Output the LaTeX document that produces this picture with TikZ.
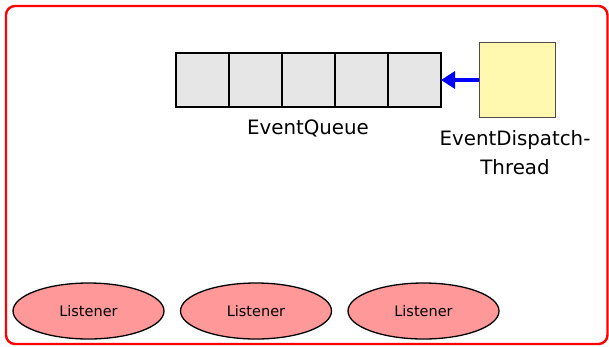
\documentclass[tikz,border=0pt]{standalone}
\usepackage{fontspec}
\setmainfont{DejaVu Sans}
\usetikzlibrary{shapes.geometric,arrows.meta}
\definecolor{cellgray}{HTML}{E6E6E6}
\definecolor{threadyellow}{HTML}{FFF8AE}
\definecolor{listenerred}{HTML}{FF9999}
\tikzset{
  frame/.style={draw=red, line width=2.4pt, rounded corners=9pt},
  cell/.style={draw=black, line width=1.6pt, fill=cellgray, minimum width=53pt, minimum height=53.5pt, inner sep=0pt, outer sep=0pt},
  thread/.style={draw=black!70, line width=0.8pt, fill=threadyellow, minimum width=76.5pt, minimum height=75.5pt, inner sep=0pt},
  listener/.style={ellipse, draw=black, line width=1.3pt, fill=listenerred, minimum width=151pt, minimum height=56pt, inner sep=0pt, font=\fontsize{14.5}{16}\selectfont},
  caption/.style={font=\fontsize{19.8}{29.5}\selectfont, align=center, inner sep=0pt},
  dispatch/.style={draw=blue, line width=4pt, -{Triangle[length=14pt, width=17pt]}, shorten >=0pt}
}
\begin{document}
\begin{tikzpicture}[x=1pt, y=-1pt]
\useasboundingbox (0,0) rectangle (609,346);
% outer frame
\draw[frame] (6,6) rectangle (607.5,344);
% the event queue: five cells
\foreach \i in {0,...,4} {
  \node[cell] (c\i) at ({202.5+53*\i},80) {};
}
\node[caption, anchor=base] (qlabel) at (308,134) {EventQueue};
% dispatch thread
\node[thread] (edt) at (517.5,80) {};
\node[caption, anchor=north] (tlabel) at (515,130) {EventDispatch-\\Thread};
\draw[dispatch] (edt.west) -- (c4.east);
% listeners
\node[listener] (l1) at (88.5,311) {Listener};
\node[listener] (l2) at (256,311) {Listener};
\node[listener] (l3) at (423.5,311) {Listener};
\end{tikzpicture}
\end{document}
